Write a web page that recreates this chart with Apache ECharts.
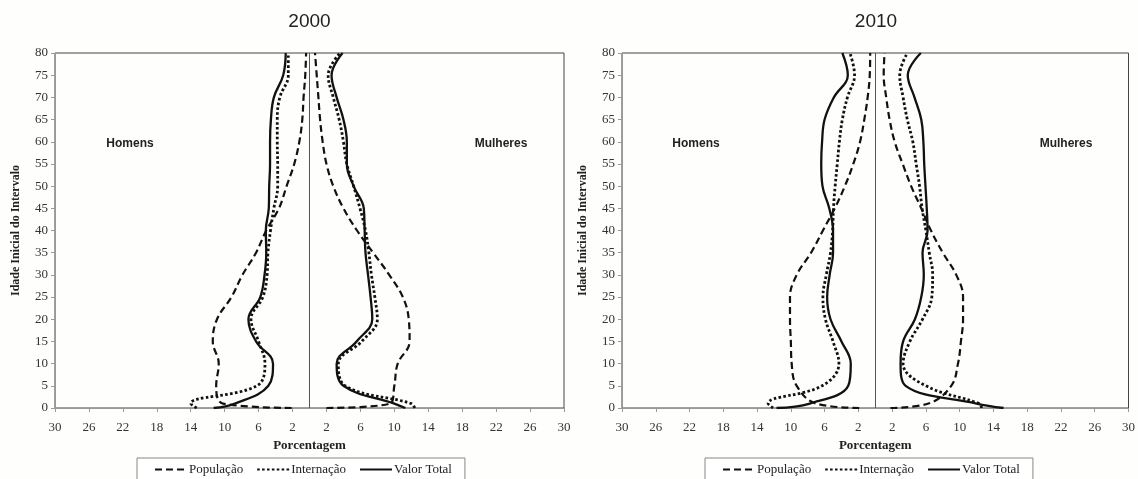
<!DOCTYPE html>
<html>
<head>
<meta charset="utf-8">
<script src="https://cdn.jsdelivr.net/npm/echarts@6/dist/echarts.min.js"></script>
<style>
html,body{margin:0;padding:0;background:#fefefc;}
#c{width:1138px;height:479px;}
</style>
</head>
<body>
<div id="c"></div>
<script>
// Age at start of each interval (y axis)
const ages = [0, 1, 5, 10, 15, 20, 25, 30, 35, 40, 45, 50, 55, 60, 65, 70, 75, 80];
const panelYears = ['2000', '2010'];
const seriesNames = ['População', 'Internação', 'Valor Total'];

// 2000 — Homens (percent)
const pop2000Men = [2.1, 10.2, 11.0, 10.7, 11.4, 10.9, 9.2, 7.9, 6.3, 5.1, 3.6, 2.7, 1.8, 1.2, 0.85, 0.7, 0.5, 0.4];
const int2000Men = [13.3, 14.0, 6.2, 5.25, 6.0, 6.9, 5.5, 5.0, 4.9, 4.6, 4.2, 3.75, 3.75, 3.8, 3.8, 3.5, 2.5, 2.5];
const tot2000Men = [11.3, 8.8, 4.85, 4.3, 6.3, 7.2, 5.8, 5.3, 5.1, 5.15, 4.8, 4.75, 4.65, 4.65, 4.55, 4.2, 3.1, 2.8];
// 2000 — Mulheres
const pop2000Women = [2.0, 9.5, 10.0, 10.4, 11.8, 11.7, 11.0, 9.4, 7.5, 5.6, 4.0, 2.8, 2.0, 1.55, 1.25, 1.05, 0.85, 0.65];
const int2000Women = [12.4, 12.0, 4.2, 3.4, 6.15, 8.0, 7.7, 7.3, 7.0, 6.6, 5.95, 5.2, 4.4, 4.0, 3.5, 2.8, 2.2, 3.6];
const tot2000Women = [11.3, 10.0, 4.0, 3.2, 5.55, 7.4, 7.2, 6.9, 6.6, 6.5, 6.4, 5.2, 4.4, 4.4, 4.0, 3.2, 2.6, 3.9];
// 2010 — Homens
const pop2010Men = [1.9, 7.0, 9.3, 9.9, 10.0, 10.1, 10.1, 9.3, 7.6, 6.2, 4.8, 3.6, 2.6, 1.8, 1.3, 0.9, 0.65, 0.6];
const int2010Men = [12.1, 12.7, 6.3, 4.3, 5.0, 5.9, 6.2, 5.8, 5.3, 5.05, 4.95, 4.75, 4.5, 4.25, 3.9, 3.3, 2.45, 3.0];
const tot2010Men = [11.7, 7.75, 3.2, 2.9, 4.0, 5.3, 5.7, 5.4, 5.0, 5.0, 5.45, 6.25, 6.4, 6.3, 6.0, 4.9, 3.25, 3.9];
// 2010 — Mulheres
const pop2010Women = [1.8, 6.3, 9.0, 9.8, 10.15, 10.4, 10.4, 9.6, 8.0, 6.6, 5.45, 4.25, 3.25, 2.3, 1.7, 1.3, 1.0, 1.1];
const int2010Women = [12.6, 12.3, 6.0, 3.3, 4.1, 5.6, 6.7, 6.8, 6.4, 6.0, 5.55, 5.25, 4.85, 4.45, 3.8, 3.3, 2.9, 3.8];
const tot2010Women = [15.2, 12.0, 3.6, 3.0, 3.3, 4.7, 5.45, 5.75, 5.6, 6.2, 6.1, 5.95, 5.8, 5.7, 5.45, 4.65, 3.85, 5.4];

const panels = [
  { men: [pop2000Men, int2000Men, tot2000Men], women: [pop2000Women, int2000Women, tot2000Women] },
  { men: [pop2010Men, int2010Men, tot2010Men], women: [pop2010Women, int2010Women, tot2010Women] }
];

const SERIF = '"Liberation Serif", "Times New Roman", serif';
const SANS = '"Liberation Sans", Arial, sans-serif';
const INK = '#111';

const lineStyles = [
  { type: [7, 4], width: 2.2, color: INK },
  { type: [2.6, 2.3], width: 2.8, color: INK },
  { type: 'solid', width: 2.3, color: INK }
];

const gridPos = [
  { left: 55, width: 509, top: 53, bottom: 71 },
  { left: 622, width: 508, top: 53, bottom: 71 }
];

function toPoints(vals, sign) {
  return vals.map((v, i) => [sign * v, ages[i]]);
}

const series = [];
panels.forEach((p, pi) => {
  [['men', -1], ['women', 1]].forEach(([side, sign]) => {
    p[side].forEach((vals, si) => {
      const s = {
        name: seriesNames[si],
        type: 'line',
        xAxisIndex: pi,
        yAxisIndex: pi,
        data: toPoints(vals, sign),
        smooth: 0.4,
        showSymbol: false,
        symbol: 'none',
        lineStyle: lineStyles[si],
        itemStyle: { color: INK },
        silent: true,
        animation: false,
        z: 3
      };
      if (side === 'men' && si === 0) {
        s.markLine = {
          silent: true,
          symbol: 'none',
          label: { show: false },
          lineStyle: { color: '#555', width: 1, type: 'solid' },
          data: [{ xAxis: 0 }],
          animation: false
        };
      }
      series.push(s);
    });
  });
});

const option = {
  backgroundColor: '#fefefc',
  animation: false,
  grid: gridPos.map(g => Object.assign({ show: true, borderColor: '#444', borderWidth: 1, backgroundColor: 'transparent', containLabel: false }, g)),
  xAxis: gridPos.map((g, i) => ({
    type: 'value',
    gridIndex: i,
    min: -30,
    max: 30,
    interval: 4,
    name: 'Porcentagem',
    nameLocation: 'middle',
    nameGap: 31,
    nameTextStyle: { fontFamily: SERIF, fontWeight: 'bold', fontSize: 13, color: '#222' },
    axisLine: { show: true, onZero: false, lineStyle: { color: '#999', width: 1 } },
    axisTick: { show: true, length: 4, lineStyle: { color: '#999' } },
    axisLabel: { fontFamily: SERIF, fontSize: 13, color: '#333', margin: 13, formatter: v => String(Math.abs(v)) },
    splitLine: { show: false }
  })),
  yAxis: gridPos.map((g, i) => ({
    type: 'value',
    gridIndex: i,
    min: 0,
    max: 80,
    interval: 5,
    name: 'Idade Inicial do Intervalo',
    nameLocation: 'middle',
    nameRotate: 90,
    nameGap: 33,
    nameTextStyle: { fontFamily: SERIF, fontWeight: 'bold', fontSize: 12, color: '#222' },
    axisLine: { show: true, onZero: false, lineStyle: { color: '#999', width: 1 } },
    axisTick: { show: true, length: 4, lineStyle: { color: '#999' } },
    axisLabel: { fontFamily: SERIF, fontSize: 13, color: '#333', margin: 7 },
    splitLine: { show: false }
  })),
  legend: [
    { left: 137, top: 458 },
    { left: 705, top: 458 }
  ].map(l => Object.assign({
    orient: 'horizontal',
    data: seriesNames,
    itemWidth: 32,
    itemHeight: 10,
    itemGap: 13,
    padding: [5, 13, 6, 17],
    borderColor: '#888',
    borderWidth: 1,
    backgroundColor: '#fff',
    selectedMode: false,
    itemStyle: { opacity: 0, borderWidth: 0 },
    lineStyle: { width: 2 },
    textStyle: { fontFamily: SERIF, fontSize: 13, color: '#222', padding: [0, 0, 0, -3] }
  }, l)),
  graphic: [
    ...panelYears.map((t, i) => ({
      type: 'text',
      x: gridPos[i].left + gridPos[i].width / 2,
      y: 22,
      style: { text: t, font: '19px ' + SANS, fill: '#222', textAlign: 'center', textVerticalAlign: 'middle' }
    })),
    ...[130, 696].map(x => ({
      type: 'text', x, y: 144,
      style: { text: 'Homens', font: 'bold 12px ' + SANS, fill: '#222', textAlign: 'center', textVerticalAlign: 'middle' }
    })),
    ...[501, 1066].map(x => ({
      type: 'text', x, y: 144,
      style: { text: 'Mulheres', font: 'bold 12px ' + SANS, fill: '#222', textAlign: 'center', textVerticalAlign: 'middle' }
    }))
  ],
  series
};

const chart = echarts.init(document.getElementById('c'), null, { renderer: 'canvas' });
chart.setOption(option);
</script>
</body>
</html>
